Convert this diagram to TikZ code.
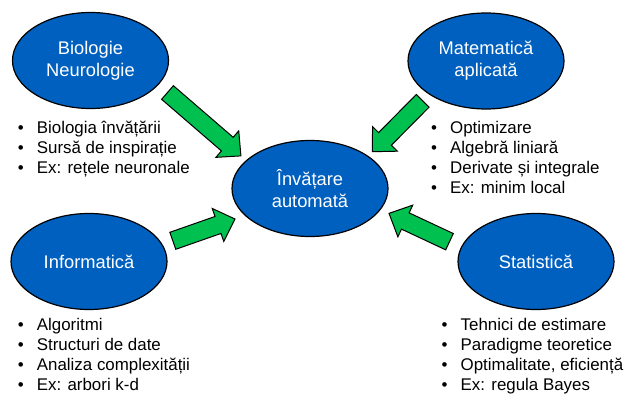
\documentclass[tikz,border=0pt]{standalone}
\usepackage{fontspec}
\setmainfont{Liberation Sans}
\usepackage{tikz}
\usetikzlibrary{shapes.geometric}

\definecolor{fieldblue}{HTML}{0060C0}
\definecolor{arrowgreen}{HTML}{00C050}

% one line of a bullet list
\newcommand{\itm}[1]{\strut\makebox[19pt][l]{\textbullet}#1}
% block arrow: tail point, angle, length
\newcommand{\greenarrow}[3]{%
\begin{scope}[shift={#1},rotate=#2]
\filldraw[bigarrow] (0,-9) -- (#3-18,-9) -- (#3-18,-17.5) -- (#3,0) -- (#3-18,17.5) -- (#3-18,9) -- (0,9) -- cycle;
\end{scope}}

\begin{document}
\begin{tikzpicture}[x=1pt,y=1pt,
  field/.style={ellipse,draw=black,line width=1.2pt,fill=fieldblue,text=white,
    minimum width=156pt,minimum height=96pt,inner sep=0pt,align=center,
    font=\fontsize{18.3}{22}\selectfont},
  topics/.style={anchor=north west,inner sep=0pt,align=left,
    font=\fontsize{16.9}{20}\selectfont},
  bigarrow/.style={draw=black,line width=1pt,fill=arrowgreen}]

\useasboundingbox (0,0) rectangle (635,400);

\node[field] (bio) at (90.5,339.5) {Biologie\\Neurologie};
\node[field] (mat) at (486,339) {Matematică\\aplicată};
\node[field] (ml) at (310,211.5) {Învățare\\automată};
\node[field] (info) at (89,138.5) {Informatică};
\node[field] (stat) at (536,138.5) {Statistică};

\node[topics] (biolist) at (17.7,280.5) {\itm{Biologia învățării}\\\itm{Sursă de inspirație}\\\itm{Ex: rețele neuronale}};
\node[topics] (matlist) at (431,281) {\itm{Optimizare}\\\itm{Algebră liniară}\\\itm{Derivate și integrale}\\\itm{Ex: minim local}};
\node[topics] (infolist) at (17.7,84) {\itm{Algoritmi}\\\itm{Structuri de date}\\\itm{Analiza complexității}\\\itm{Ex: arbori k-d}};
\node[topics] (statlist) at (441.5,84) {\itm{Tehnici de estimare}\\\itm{Paradigme teoretice}\\\itm{Optimalitate, eficiență}\\\itm{Ex: regula Bayes}};

% arrows into the centre
\greenarrow{(167.5,307.5)}{-40.8}{97}
\greenarrow{(422.7,299.2)}{-134.7}{71.6}
\greenarrow{(172.8,159.2)}{19.3}{65.9}
\greenarrow{(449.5,158.3)}{154.9}{66.8}

\end{tikzpicture}
\end{document}
